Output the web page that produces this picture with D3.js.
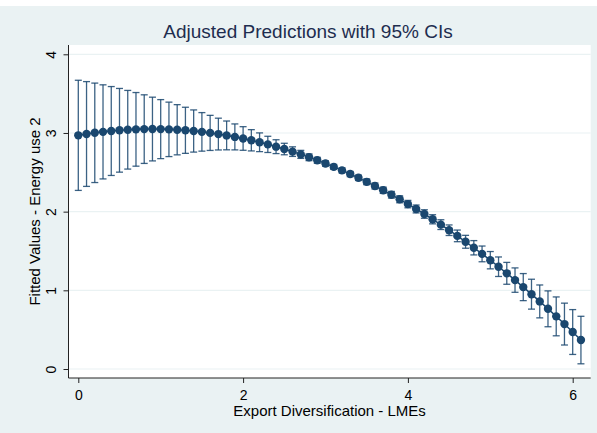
<!DOCTYPE html>
<html>
<head>
<meta charset="utf-8">
<script src="https://cdn.jsdelivr.net/npm/d3@7/dist/d3.min.js"></script>
<style>
  html, body { margin: 0; padding: 0; background: #fff; }
  svg { display: block; font-family: "Liberation Sans", Arial, sans-serif; }
</style>
</head>
<body>
<svg id="chart" width="597" height="433"></svg>
<script>
// ---- data ----
const xValues = [0.0,0.1,0.2,0.3,0.4,0.5,0.6,0.7,0.8,0.9,1.0,1.1,1.2,1.3,1.4,1.5,1.6,1.7,1.8,1.9,2.0,2.1,2.2,2.3,2.4,2.5,2.6,2.7,2.8,2.9,3.0,3.1,3.2,3.3,3.4,3.5,3.6,3.7,3.8,3.9,4.0,4.1,4.2,4.3,4.4,4.5,4.6,4.7,4.8,4.9,5.0,5.1,5.2,5.3,5.4,5.5,5.6,5.7,5.8,5.9,6.0,6.1];
const fitted = [2.970,2.987,3.002,3.014,3.025,3.034,3.041,3.046,3.049,3.050,3.049,3.046,3.041,3.034,3.025,3.014,3.001,2.986,2.969,2.950,2.930,2.907,2.882,2.855,2.826,2.796,2.763,2.728,2.691,2.653,2.612,2.569,2.525,2.478,2.430,2.379,2.326,2.272,2.215,2.157,2.096,2.034,1.970,1.903,1.835,1.764,1.692,1.617,1.541,1.463,1.383,1.300,1.216,1.130,1.041,0.951,0.859,0.765,0.669,0.571,0.470,0.368];
const ciLower = [2.270,2.321,2.370,2.416,2.460,2.502,2.541,2.578,2.613,2.645,2.674,2.700,2.722,2.741,2.757,2.769,2.778,2.784,2.786,2.785,2.780,2.772,2.763,2.752,2.738,2.723,2.702,2.677,2.648,2.615,2.578,2.537,2.493,2.445,2.396,2.343,2.288,2.232,2.173,2.113,2.049,1.984,1.916,1.845,1.773,1.697,1.618,1.535,1.450,1.363,1.273,1.176,1.077,0.975,0.869,0.761,0.650,0.537,0.422,0.305,0.185,0.066];
const ciUpper = [3.670,3.653,3.634,3.612,3.590,3.566,3.541,3.514,3.485,3.455,3.424,3.392,3.360,3.327,3.293,3.259,3.224,3.188,3.152,3.115,3.080,3.042,3.001,2.958,2.914,2.869,2.824,2.779,2.734,2.691,2.646,2.601,2.557,2.511,2.464,2.415,2.364,2.312,2.257,2.201,2.143,2.084,2.024,1.961,1.897,1.831,1.766,1.699,1.632,1.563,1.493,1.424,1.355,1.285,1.213,1.141,1.068,0.993,0.916,0.837,0.755,0.670];
const xTicks = [0, 2, 4, 6];
const yTicks = [0, 1, 2, 3, 4];
const titleText = "Adjusted Predictions with 95% CIs";
const xTitle = "Export Diversification - LMEs";
const yTitle = "Fitted Values - Energy use 2";

// ---- layout ----
const W = 597, H = 433;
const plot = { left: 68.5, right: 590.7, top: 45, bottom: 378 };
const navy = "#1a476f";
const bg = "#eaf2f3";

const svg = d3.select("#chart");
svg.append("rect").attr("width", W).attr("height", H).attr("fill", bg);
svg.append("rect").attr("width", W).attr("height", 6).attr("fill", "#ffffff");

svg.append("rect")
  .attr("x", plot.left).attr("y", plot.top)
  .attr("width", plot.right - plot.left).attr("height", plot.bottom - plot.top)
  .attr("fill", "#ffffff");

const x = d3.scaleLinear().domain([0, 6]).range([78.3, 572.7]);
const y = d3.scaleLinear().domain([0, 4]).range([369, 54.3]);

// gridlines
svg.append("g").selectAll("line").data(yTicks).join("line")
  .attr("x1", plot.left).attr("x2", plot.right)
  .attr("y1", d => y(d)).attr("y2", d => y(d))
  .attr("stroke", bg).attr("stroke-width", 1.2);

// axes
const yAxis = d3.axisLeft(y).tickValues(yTicks).tickFormat(d3.format("d")).tickSize(5).tickPadding(6);
const gy = svg.append("g").attr("transform", `translate(${plot.left},0)`).call(yAxis);
gy.select(".domain").remove();
gy.selectAll(".tick line").attr("stroke", "#222");
gy.selectAll(".tick text")
  .attr("font-size", 14).attr("fill", "#000")
  .attr("text-anchor", "middle")
  .attr("x", 0).attr("y", 0).attr("dy", 0)
  .attr("transform", "translate(-13,0) rotate(-90)");

const xAxis = d3.axisBottom(x).tickValues(xTicks).tickFormat(d3.format("d")).tickSize(5).tickPadding(7);
const gx = svg.append("g").attr("transform", `translate(0,${plot.bottom})`).call(xAxis);
gx.select(".domain").remove();
gx.selectAll(".tick line").attr("stroke", "#222");
gx.selectAll(".tick text").attr("font-size", 14).attr("fill", "#000");

svg.append("line").attr("x1", plot.left).attr("x2", plot.left)
  .attr("y1", plot.top).attr("y2", plot.bottom).attr("stroke", "#222").attr("stroke-width", 1);
svg.append("line").attr("x1", plot.left).attr("x2", plot.right)
  .attr("y1", plot.bottom).attr("y2", plot.bottom).attr("stroke", "#222").attr("stroke-width", 1);

// data
const data = xValues.map((v, i) => ({ x: v, y: fitted[i], lo: ciLower[i], hi: ciUpper[i] }));

const bars = svg.append("g").attr("stroke", navy).attr("stroke-width", 1.3).attr("stroke-opacity", 0.85);
const capW = 3.5;
bars.selectAll(".v").data(data).join("line")
  .attr("x1", d => x(d.x)).attr("x2", d => x(d.x))
  .attr("y1", d => y(d.lo)).attr("y2", d => y(d.hi));
bars.selectAll(".ct").data(data).join("line")
  .attr("x1", d => x(d.x) - capW).attr("x2", d => x(d.x) + capW)
  .attr("y1", d => y(d.hi)).attr("y2", d => y(d.hi));
bars.selectAll(".cb").data(data).join("line")
  .attr("x1", d => x(d.x) - capW).attr("x2", d => x(d.x) + capW)
  .attr("y1", d => y(d.lo)).attr("y2", d => y(d.lo));

svg.append("path").datum(data)
  .attr("fill", "none").attr("stroke", navy).attr("stroke-width", 1.5)
  .attr("d", d3.line().x(d => x(d.x)).y(d => y(d.y)));

svg.append("g").selectAll("circle").data(data).join("circle")
  .attr("cx", d => x(d.x)).attr("cy", d => y(d.y)).attr("r", 4.2)
  .attr("fill", navy);

// titles
svg.append("text").attr("x", 308).attr("y", 38)
  .attr("text-anchor", "middle").attr("font-size", 19).attr("fill", "#1e2d4f")
  .text(titleText);
svg.append("text").attr("x", (plot.left + plot.right) / 2).attr("y", 416)
  .attr("text-anchor", "middle").attr("font-size", 15).attr("fill", "#000")
  .text(xTitle);
svg.append("text")
  .attr("transform", `translate(40,${(plot.top + plot.bottom) / 2}) rotate(-90)`)
  .attr("text-anchor", "middle").attr("font-size", 15).attr("fill", "#000")
  .text(yTitle);
</script>
</body>
</html>
